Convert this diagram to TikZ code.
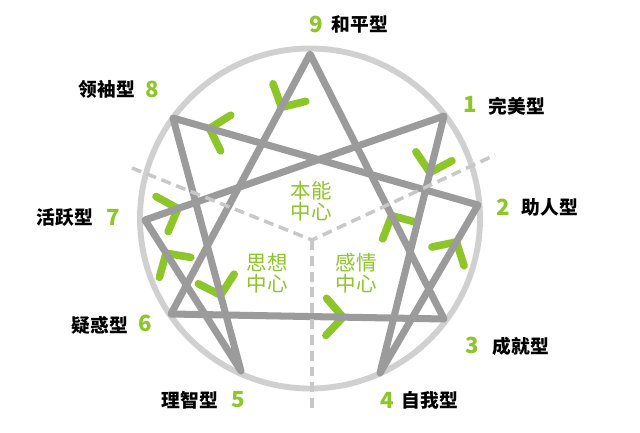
\documentclass[tikz,border=0pt]{standalone}
\usepackage{fontspec}
\usetikzlibrary{calc}
\newfontfamily\cjk{Noto Sans CJK SC}
\definecolor{leaf}{RGB}{140,198,40}
\definecolor{stargray}{RGB}{155,155,155}
\definecolor{ringgray}{RGB}{208,208,208}
\definecolor{dashgray}{RGB}{200,200,200}
\newcommand\chevron[3]{%
  \coordinate (cp) at ($(#1)!#3!(#2)$);
  \draw[chevst] ($(cp)!0.75cm!48:(#1)$) -- (cp) -- ($(cp)!0.75cm!-48:(#1)$);
}
\begin{document}
\begin{tikzpicture}[x=0.03cm,y=-0.03cm,
  ring/.style={draw=ringgray,line width=5pt},
  starline/.style={draw=stargray,line width=6pt,line join=round,line cap=round},
  chevst/.style={draw=leaf,line width=6.5pt,line cap=round,line join=round},
  dashline/.style={draw=dashgray,line width=3pt,dash pattern=on 8.5pt off 5pt},
  num/.style={font=\cjk\bfseries\fontsize{19}{19}\selectfont,text=leaf,inner sep=0pt},
  lab/.style={font=\cjk\bfseries\fontsize{16}{16}\selectfont,text=black,inner sep=0pt},
  ctr/.style={font=\cjk\fontsize{17.5}{17.5}\selectfont,text=leaf,align=center,inner sep=0pt}]
\useasboundingbox (0,0) rectangle (640,433);
\fill[white] (0,0) rectangle (640,433);
\coordinate (o) at (310,218.5);
\draw[ring] (o) circle[radius=5.1cm];
% star vertices
\coordinate (v9) at (310,54);
\coordinate (v1) at (444,116);
\coordinate (v2) at (478,205);
\coordinate (v3) at (444,319);
\coordinate (v4) at (380,373);
\coordinate (v5) at (241,371);
\coordinate (v6) at (171,314);
\coordinate (v7) at (145,220);
\coordinate (v8) at (173,118);
% arrows
\chevron{v9}{v6}{0.205}
\chevron{v2}{v8}{0.88}
\chevron{v1}{v4}{0.22}
\chevron{v3}{v9}{0.39}
\chevron{v4}{v2}{0.78}
\chevron{v6}{v3}{0.63}
\chevron{v8}{v5}{0.70}
\chevron{v5}{v7}{0.78}
\chevron{v7}{v1}{0.11}
% star
\draw[starline] (v9) -- (v6) -- (v3) -- cycle;
\draw[starline] (v1) -- (v4) -- (v2) -- (v8) -- (v5) -- (v7) -- cycle;
% dashed centre dividers
\coordinate (dc) at (312,240);
\coordinate (d1) at (132,168);
\coordinate (d2) at (495,155);
\coordinate (d3) at (312,412);
\draw[dashline] (d1) -- (dc) -- (d2);
\draw[dashline] (dc) -- (d3);
% centre labels
\node[ctr] (ci) at (311,201) {本能\\中心};
\node[ctr] (cs) at (267,273) {思想\\中心};
\node[ctr] (ce) at (356,273) {感情\\中心};
% type labels
\node[num] (n9) at (316,24) {9};  \node[lab] (t9) at (360,24) {和平型};
\node[num] (n1) at (470,104) {1}; \node[lab] (t1) at (517,106) {完美型};
\node[num] (n2) at (503,207) {2}; \node[lab] (t2) at (550,207) {助人型};
\node[num] (n3) at (472,345) {3}; \node[lab] (t3) at (521,346) {成就型};
\node[num] (n4) at (387,400) {4}; \node[lab] (t4) at (430,400) {自我型};
\node[num] (n5) at (238,400) {5}; \node[lab] (t5) at (190,400) {理智型};
\node[num] (n6) at (145,323) {6}; \node[lab] (t6) at (100,325) {疑惑型};
\node[num] (n7) at (113,217) {7}; \node[lab] (t7) at (65,217) {活跃型};
\node[num] (n8) at (152,89) {8};  \node[lab] (t8) at (107,89) {领袖型};
\end{tikzpicture}
\end{document}
